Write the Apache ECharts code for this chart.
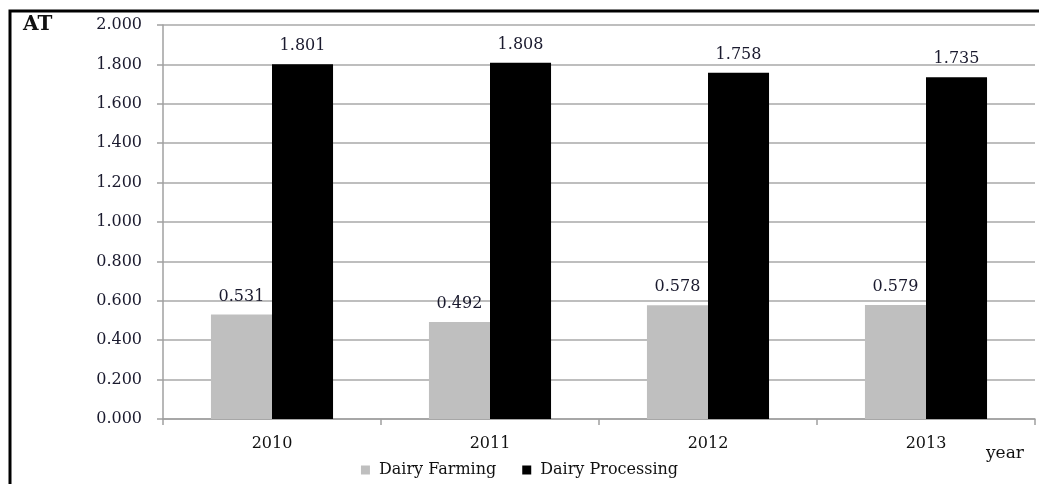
<!DOCTYPE html>
<html><head><meta charset="utf-8">
<script src="https://cdn.jsdelivr.net/npm/echarts@6/dist/echarts.min.js"></script>
<style>html,body{margin:0;padding:0;background:#fff}#c{width:1039px;height:484px}</style>
</head><body><div id="c"></div>
<script>
const categories = ['2010','2011','2012','2013'];
const dairyFarming = [0.531,0.492,0.578,0.579];
const dairyProcessing = [1.801,1.808,1.758,1.735];
const seriesNames = ['Dairy Farming','Dairy Processing'];
const F = '"DejaVu Serif","Liberation Serif",serif';
const chart = echarts.init(document.getElementById('c'));
const lbl = {show:true, position:'top', distance:10, fontFamily:F, fontSize:16, color:'#1a1a2e', formatter:p=>p.value.toFixed(3)};
chart.setOption({
  animation:false,
  graphic:[
    {type:'rect', shape:{x:10,y:11,width:1040,height:490}, style:{fill:'none',stroke:'#000',lineWidth:3}},
    {type:'text', left:23, top:15, style:{text:'AT', font:'bold 20px '+F, fill:'#111'}},
    {type:'text', left:986, top:445, style:{text:'year', font:'17px '+F, fill:'#111'}}
  ],
  grid:{left:163, right:4, top:25, bottom:65},
  legend:{bottom:1, left:'center', itemWidth:9, itemHeight:9, itemGap:26, icon:'rect',
    textStyle:{fontFamily:F, fontSize:16, color:'#111', padding:[0,0,0,4]}, data:seriesNames},
  xAxis:{type:'category', data:categories,
    axisLine:{lineStyle:{color:'#a0a0a0', width:1.5}},
    axisTick:{show:true, length:6, lineStyle:{color:'#a0a0a0', width:1.5}},
    axisLabel:{fontFamily:F, fontSize:16, color:'#111', margin:17}},
  yAxis:{type:'value', min:0, max:2, interval:0.2,
    axisLine:{show:true, lineStyle:{color:'#a0a0a0', width:1.5}},
    axisTick:{show:true, length:6, lineStyle:{color:'#a0a0a0', width:1.5}},
    splitLine:{lineStyle:{color:'#a8a8a8', width:1.5}},
    axisLabel:{fontFamily:F, fontSize:16, color:'#1a1a2e', margin:21, formatter:v=>v.toFixed(3)}},
  series:[
    {name:seriesNames[0], type:'bar', data:dairyFarming, itemStyle:{color:'#bfbfbf'}, barGap:'0%', barCategoryGap:'44%', label:lbl},
    {name:seriesNames[1], type:'bar', data:dairyProcessing, itemStyle:{color:'#000'}, barGap:'0%', barCategoryGap:'44%', label:lbl}
  ]
});
</script></body></html>
